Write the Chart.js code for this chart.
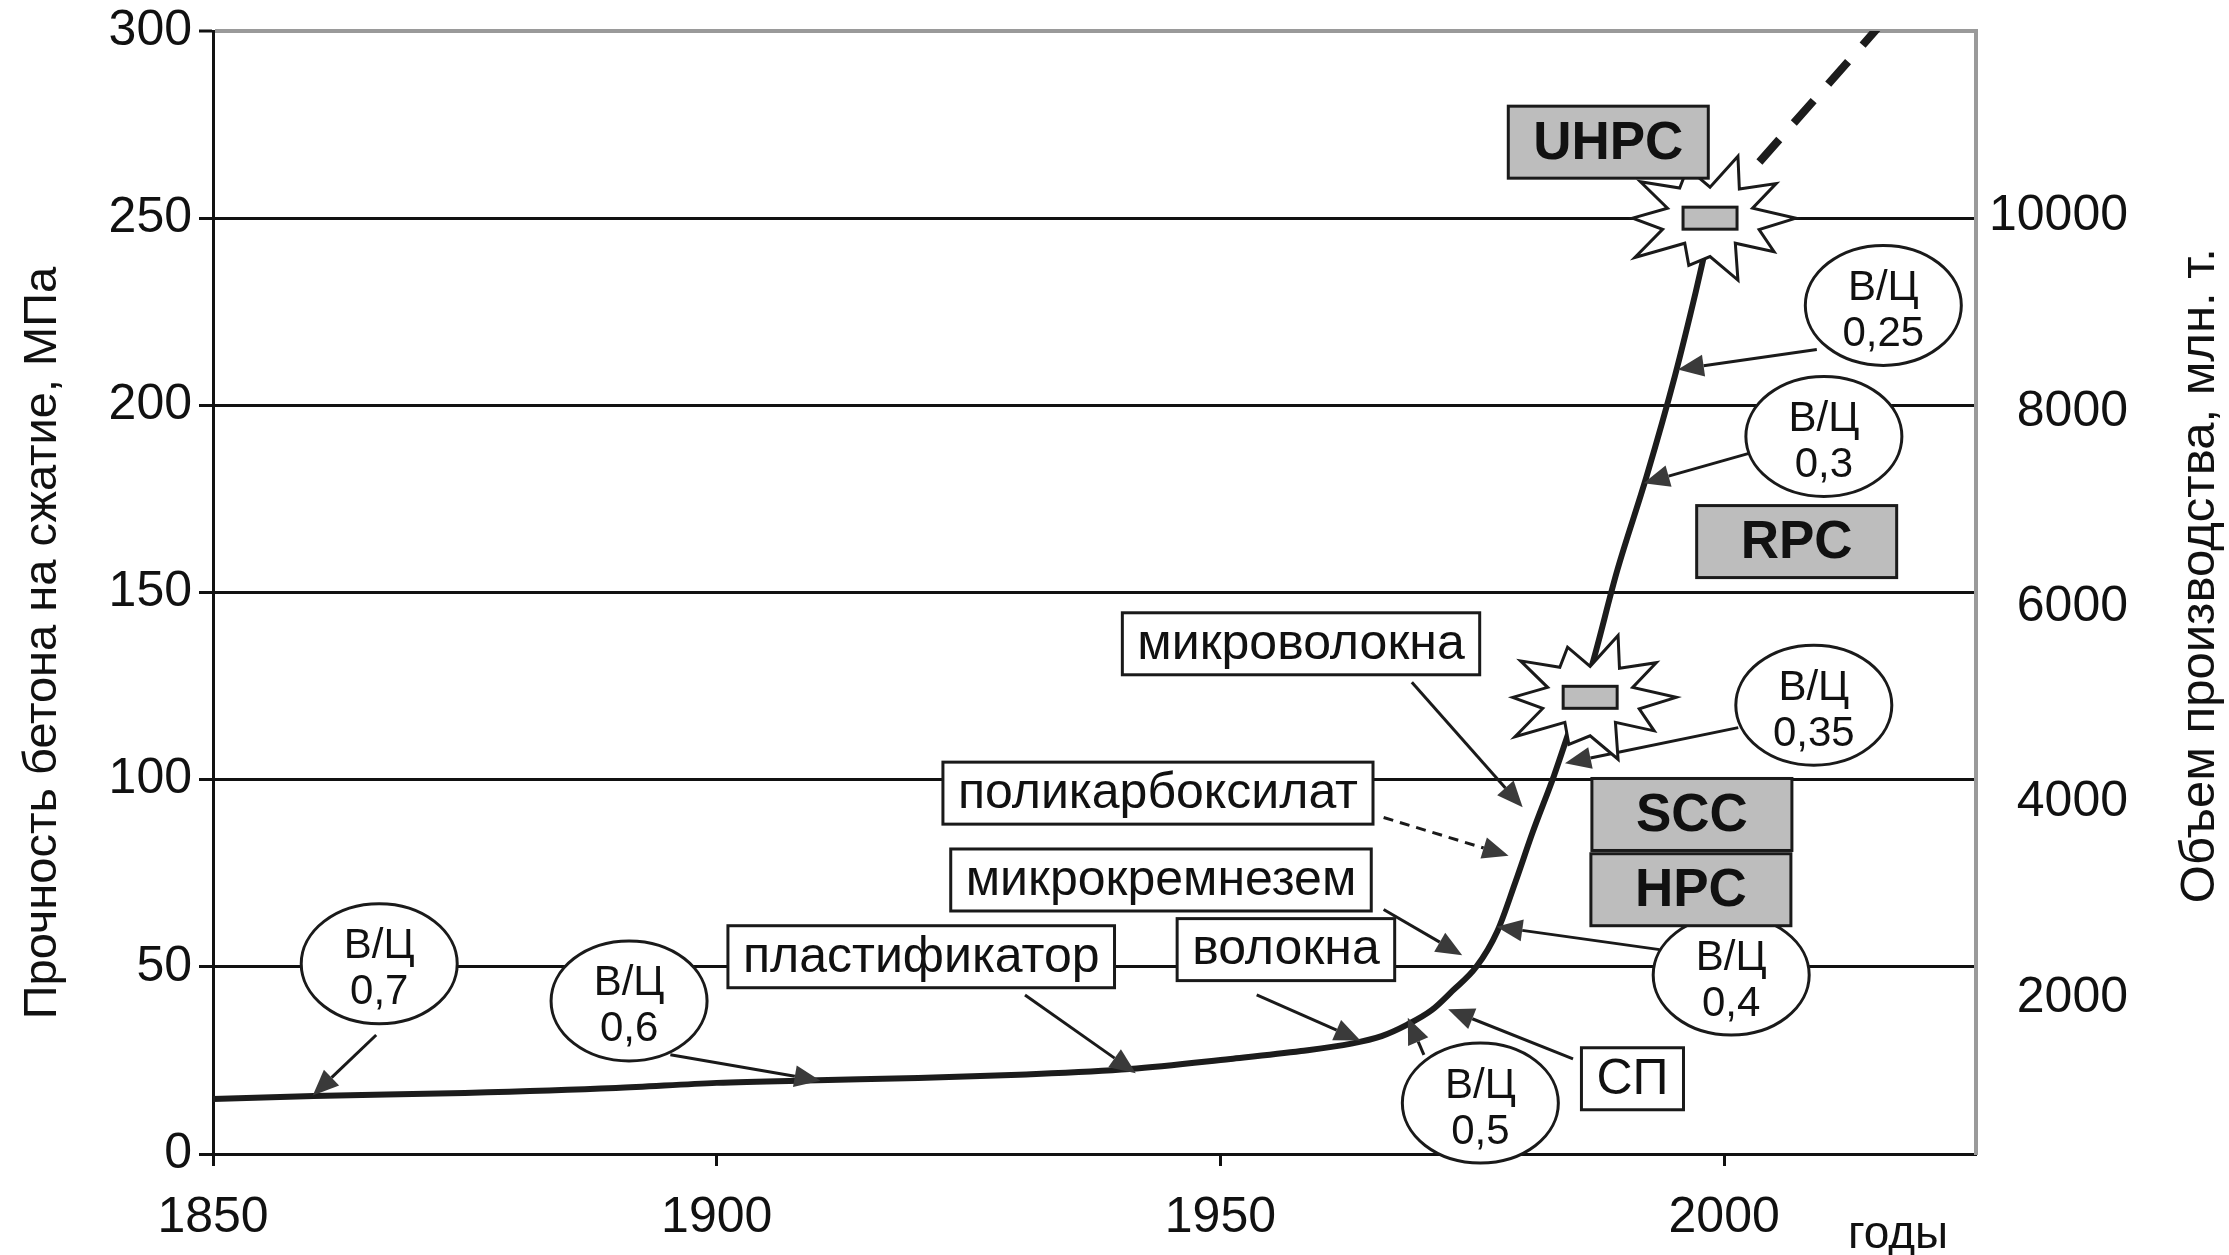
<!DOCTYPE html>
<html>
<head>
<meta charset="utf-8">
<script src="https://cdn.jsdelivr.net/npm/chart.js@4"></script>
<style>
  html, body { margin: 0; padding: 0; background: #fff; }
  #wrap { width: 2229px; height: 1255px; }
</style>
</head>
<body>
<div id="wrap"><canvas id="diagram"></canvas></div>
<script>
// Кривая роста прочности бетона (годы / МПа)
const years = [1850, 1860, 1875, 1890, 1900, 1910, 1920, 1930, 1941, 1951, 1958, 1963, 1966, 1968.5,
  1971, 1973, 1975.4, 1977.5, 1979.3, 1981, 1983.1, 1985, 1986.6, 1989.4, 1992.3, 1995.1, 1997.2, 1998.6];
const strength = [14.7, 15.5, 16.3, 17.6, 19, 19.7, 20.3, 21.2, 22.7, 25.4, 27.5, 29.5, 31.5, 34.5,
  38.5, 43.5, 50, 59.6, 72.8, 86, 101, 116, 128, 156, 181, 207.7, 230.5, 247];

// прогноз (пунктир)
const forecastYears = [2003.5, 2015.3];
const forecastStrength = [265, 301];

// подписи осей
const xTicks = [1850, 1900, 1950, 2000];
const yTicks = [0, 50, 100, 150, 200, 250, 300];
const y2Ticks = [2000, 4000, 6000, 8000, 10000];

// В/Ц: подпись, центр эллипса, начало и конец стрелки (год, МПа)
const wcLabels = ["0,7", "0,6", "0,5", "0,4", "0,35", "0,3", "0,25"];
const wcCenter = [[1866.5, 50.8], [1891.3, 40.9], [1975.8, 13.6], [2000.7, 47.8], [2008.9, 119.9], [2009.9, 191.7], [2015.8, 226.7]];
const wcFrom = [[1866.2, 31.8], [1895.4, 26.5], [1970.2, 26.5], [1993.6, 54.6], [2001.4, 113.9], [2002.9, 187.5], [2009.2, 214.9]];
const wcTo = [[1859.9, 15.6], [1910.3, 19.6], [1968.6, 36.4], [1977.4, 60.7], [1984.2, 104.4], [1992.0, 179.2], [1995.4, 209.6]];

// добавки
const addTexts = ["пластификатор", "волокна", "микрокремнезем", "поликарбоксилат", "микроволокна", "СП"];
const addCenter = [[1920.3, 52.7], [1956.5, 54.6], [1944.1, 73.2], [1943.8, 96.4], [1958, 136.3], [1990.9, 20.1]];
const addFrom = [[1930.6, 42.5], [1953.6, 42.5], [1966.2, 65.3], [1966.2, 89.9], [1969, 126], [1985, 25.4]];
const addTo = [[1941.6, 21.6], [1963.9, 30.3], [1974, 53.1], [1978.6, 79.7], [1980, 92.6], [1972.6, 38.7]];

// классы бетонов
const classTexts = ["HPC", "SCC", "RPC", "UHPC"];
const classCenter = [[1996.7, 70.6], [1996.8, 90.7], [2007.2, 163.6], [1988.5, 270.3]];

// "взрывы"
const burstCenter = [[1998.6, 250], [1986.7, 122]];

const FONT = "'Liberation Sans', Arial, sans-serif";
Chart.defaults.font.family = FONT;
Chart.defaults.color = "#111";

function arrow(ctx, x0, y0, x1, y1, dashed) {
  const a = Math.atan2(y1 - y0, x1 - x0);
  const len = 26, half = 11;
  const bx = x1 - len * Math.cos(a), by = y1 - len * Math.sin(a);
  ctx.beginPath();
  ctx.setLineDash(dashed ? [10, 7] : []);
  ctx.moveTo(x0, y0);
  ctx.lineTo(bx, by);
  ctx.lineWidth = 3;
  ctx.strokeStyle = "#1a1a1a";
  ctx.stroke();
  ctx.setLineDash([]);
  ctx.beginPath();
  ctx.moveTo(x1, y1);
  ctx.lineTo(bx + half * Math.sin(a), by - half * Math.cos(a));
  ctx.lineTo(bx - half * Math.sin(a), by + half * Math.cos(a));
  ctx.closePath();
  ctx.fillStyle = "#3a3a3a";
  ctx.fill();
}

function burst(ctx, cx, cy) {
  // неровная "звезда" вокруг точки
  const k = [1, 0.6, 0.92, 0.5, 1.05, 0.62, 0.8, 0.5, 1.08, 0.58, 0.9, 0.52, 1, 0.6, 0.85, 0.5, 1.05, 0.58, 0.95, 0.52];
  ctx.beginPath();
  for (let i = 0; i < k.length; i++) {
    const a = (i / k.length) * Math.PI * 2;
    const px = cx + Math.cos(a) * 86 * k[i];
    const py = cy + Math.sin(a) * 62 * k[i];
    if (i === 0) ctx.moveTo(px, py); else ctx.lineTo(px, py);
  }
  ctx.closePath();
  ctx.fillStyle = "#fff";
  ctx.fill();
  ctx.lineWidth = 3;
  ctx.strokeStyle = "#1a1a1a";
  ctx.stroke();
  ctx.fillStyle = "#bdbdbd";
  ctx.fillRect(cx - 27, cy - 11, 54, 22);
  ctx.strokeRect(cx - 27, cy - 11, 54, 22);
}

const notes = {
  id: "notes",
  afterDatasetsDraw(chart) {
    const { ctx, scales: { x, y } } = chart;
    const px = (p) => [x.getPixelForValue(p[0]), y.getPixelForValue(p[1])];
    ctx.save();

    // стрелки
    wcFrom.forEach((p, i) => {
      const a = px(p), b = px(wcTo[i]);
      arrow(ctx, a[0], a[1], b[0], b[1], false);
    });
    addFrom.forEach((p, i) => {
      const a = px(p), b = px(addTo[i]);
      arrow(ctx, a[0], a[1], b[0], b[1], addTexts[i] === "поликарбоксилат");
    });

    burstCenter.forEach((p) => {
      const c = px(p);
      burst(ctx, c[0], c[1]);
    });

    ctx.textAlign = "center";
    ctx.textBaseline = "middle";

    // эллипсы В/Ц
    wcCenter.forEach((p, i) => {
      const c = px(p);
      ctx.beginPath();
      ctx.ellipse(c[0], c[1], 78, 60, 0, 0, Math.PI * 2);
      ctx.fillStyle = "#fff";
      ctx.fill();
      ctx.lineWidth = 3;
      ctx.strokeStyle = "#1a1a1a";
      ctx.stroke();
      ctx.fillStyle = "#111";
      ctx.font = "42px " + FONT;
      ctx.fillText("В/Ц", c[0], c[1] - 17);
      ctx.fillText(wcLabels[i], c[0], c[1] + 29);
    });

    // рамки добавок
    ctx.font = "50px " + FONT;
    addCenter.forEach((p, i) => {
      const c = px(p);
      const w = ctx.measureText(addTexts[i]).width + 30;
      const h = 62;
      ctx.fillStyle = "#fff";
      ctx.fillRect(c[0] - w / 2, c[1] - h / 2, w, h);
      ctx.lineWidth = 3;
      ctx.strokeStyle = "#1a1a1a";
      ctx.strokeRect(c[0] - w / 2, c[1] - h / 2, w, h);
      ctx.fillStyle = "#111";
      ctx.fillText(addTexts[i], c[0], c[1] + 1);
    });

    // серые рамки классов
    ctx.font = "bold 53px " + FONT;
    classCenter.forEach((p, i) => {
      const c = px(p);
      const w = Math.max(ctx.measureText(classTexts[i]).width + 46, 200);
      const h = 72;
      ctx.fillStyle = "#bdbdbd";
      ctx.fillRect(c[0] - w / 2, c[1] - h / 2, w, h);
      ctx.lineWidth = 3;
      ctx.strokeStyle = "#1a1a1a";
      ctx.strokeRect(c[0] - w / 2, c[1] - h / 2, w, h);
      ctx.fillStyle = "#111";
      ctx.fillText(classTexts[i], c[0], c[1] + 2);
    });
    ctx.restore();
  },
  afterDraw(chart) {
    const { ctx, chartArea: area } = chart;
    ctx.save();
    ctx.fillStyle = "#111";
    ctx.textAlign = "center";
    ctx.textBaseline = "middle";
    ctx.font = "47px " + FONT;
    ctx.translate(area.left - 170, area.top + area.height * 0.545);
    ctx.rotate(-Math.PI / 2);
    ctx.fillText("Прочность бетона на сжатие, МПа", 0, 0);
    ctx.restore();

    ctx.save();
    ctx.fillStyle = "#111";
    ctx.textAlign = "center";
    ctx.textBaseline = "middle";
    ctx.font = "49px " + FONT;
    ctx.translate(area.right + 224, area.top + area.height * 0.485);
    ctx.rotate(-Math.PI / 2);
    ctx.fillText("Объем производства, млн. т.", 0, 0);
    ctx.restore();

    ctx.save();
    ctx.fillStyle = "#111";
    ctx.textAlign = "center";
    ctx.textBaseline = "middle";
    ctx.font = "46px " + FONT;
    ctx.fillText("годы", area.right - 78, chart.height - 20);
    ctx.restore();
  },
};

const data = {
  datasets: [
    {
      label: "прочность",
      data: years.map((v, i) => ({ x: v, y: strength[i] })),
      borderColor: "#1c1c1c",
      borderWidth: 6,
      pointRadius: 0,
      cubicInterpolationMode: "monotone",
      fill: false,
    },
    {
      label: "прогноз",
      data: forecastYears.map((v, i) => ({ x: v, y: forecastStrength[i] })),
      borderColor: "#1c1c1c",
      borderWidth: 8,
      borderDash: [30, 22],
      pointRadius: 0,
      fill: false,
    },
  ],
};

const config = {
  type: "line",
  data: data,
  plugins: [notes],
  options: {
    responsive: true,
    maintainAspectRatio: false,
    animation: false,
    events: [],
    layout: { padding: { top: 31, left: 0, right: 101, bottom: 0 } },
    plugins: { legend: { display: false }, tooltip: { enabled: false } },
    scales: {
      x: {
        type: "linear",
        min: 1850,
        max: 2025,
        afterBuildTicks: (s) => { s.ticks = xTicks.map((v) => ({ value: v })); },
        afterFit: (s) => { s.height = 101; s.paddingLeft = 0; s.paddingRight = 0; },
        ticks: { font: { size: 50 }, padding: 22, callback: (v) => String(v) },
        grid: { drawOnChartArea: false, tickLength: 12, tickColor: "#111", tickWidth: 3 },
        border: { color: "#111", width: 3 },
      },
      y: {
        min: 0,
        max: 300,
        afterBuildTicks: (s) => { s.ticks = yTicks.map((v) => ({ value: v })); },
        afterFit: (s) => { s.width = 213; s.paddingTop = 0; s.paddingBottom = 0; },
        ticks: { font: { size: 50 }, padding: 7, callback: (v) => String(v) },
        grid: {
          color: (c) => (c.tick && c.tick.value === 300 ? "#9a9a9a" : "#111"),
          lineWidth: (c) => (c.tick && c.tick.value === 300 ? 4 : 3),
          tickColor: "#111",
          tickLength: 14,
          tickWidth: 3,
        },
        border: { color: "#111", width: 3 },
      },
      y2: {
        position: "right",
        min: 400,
        max: 11900,
        afterBuildTicks: (s) => { s.ticks = y2Ticks.map((v) => ({ value: v })); },
        afterFit: (s) => { s.width = 152; s.paddingTop = 0; s.paddingBottom = 0; },
        ticks: { font: { size: 50 }, padding: 13, crossAlign: "far", callback: (v) => String(v) },
        grid: { display: false },
        border: { color: "#9a9a9a", width: 4 },
      },
    },
  },
};

const canvas = document.getElementById("diagram");
const chart = new Chart(canvas, config);
</script>
</body>
</html>
